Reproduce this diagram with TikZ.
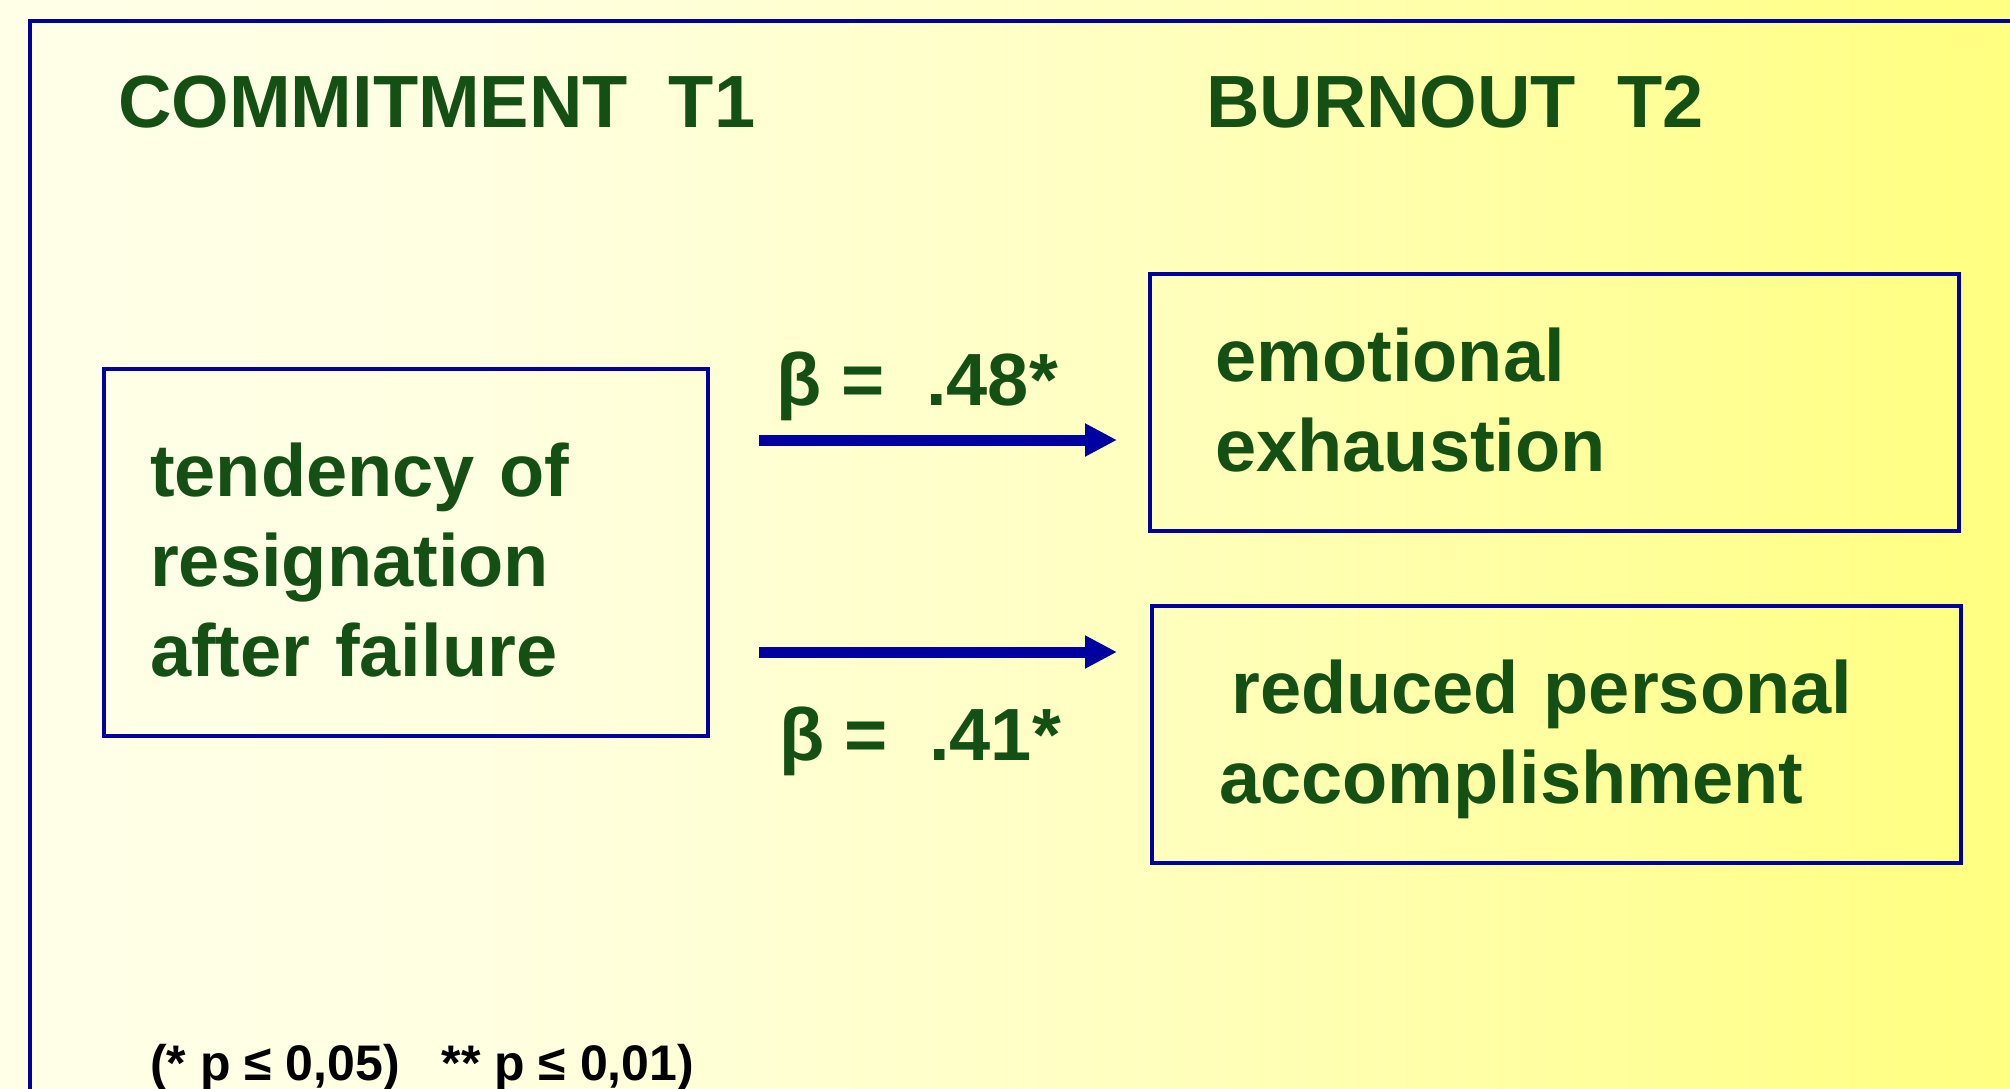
\documentclass[tikz,border=0pt]{standalone}
\usepackage{fontspec}
\setmainfont{Liberation Sans}
\usetikzlibrary{arrows.meta}
\definecolor{dgreen}{RGB}{20,80,20}
\definecolor{dblue}{RGB}{0,0,160}
\definecolor{bgA}{RGB}{255,255,248}
\definecolor{bgB}{RGB}{255,255,225}
\definecolor{bgC}{RGB}{255,255,195}
\definecolor{bgD}{RGB}{255,255,135}
\definecolor{bgE}{RGB}{255,255,110}
\definecolor{bgF}{RGB}{255,250,85}
\pgfdeclarehorizontalshading{bgshade}{100bp}{color(0bp)=(bgA); color(37bp)=(bgB); color(52bp)=(bgC); color(72bp)=(bgD); color(85bp)=(bgE); color(100bp)=(bgF)}
\tikzset{
  bigtext/.style={font=\fontsize{74}{90}\selectfont\bfseries, text=dgreen, anchor=base west, inner sep=0pt},
  blocktext/.style={bigtext, text width=700pt, align=left},
  notetext/.style={font=\fontsize{50}{54}\selectfont\bfseries, text=black, anchor=base west, inner sep=0pt},
  boxnode/.style={draw=dblue, line width=3.5pt, inner sep=0pt},
  arr/.style={draw=dblue, line width=11pt, -{Triangle[length=32pt,width=31pt]}},
}
\begin{document}
\begin{tikzpicture}[x=1pt,y=-1pt]
\useasboundingbox (0,0) rectangle (2010,1089);
\shade[shading=bgshade] (0,0) rectangle (2010,1089);
% outer frame
\draw[dblue, line width=4pt] (30,1100) -- (30,21) -- (2030,21);
% titles
\node[bigtext] (t1) at (118,128) {COMMITMENT\ \ T1};
\node[bigtext] (t2) at (1206,128) {BURNOUT\ \ T2};
% boxes
\node[boxnode, minimum width=604pt, minimum height=367pt] (left) at (406,552.5) {};
\node[boxnode, minimum width=809pt, minimum height=257pt] (ee) at (1554.5,402.5) {};
\node[boxnode, minimum width=809pt, minimum height=257pt] (rpa) at (1556.5,734.5) {};
% box texts
\node[blocktext] (lefttext) at (150,496) {tendency of\\resignation\\after failure};
\node[blocktext] (eetext) at (1215,381) {emotional\\exhaustion};
\node[blocktext] (rpatext) at (1219,713) {\hspace*{12pt}reduced personal\\accomplishment};
% arrows
\coordinate (a1s) at (759,440);
\coordinate (a1e) at (1117,440);
\coordinate (a2s) at (759,652);
\coordinate (a2e) at (1117,652);
\draw[arr] (a1s) -- (a1e);
\draw[arr] (a2s) -- (a2e);
% labels
\node[bigtext] (b1) at (776,405) {β =\ \ .48*};
\node[bigtext] (b2) at (779,760) {β =\ \ .41*};
% footnote
\node[notetext] (note) at (150,1080) {(* p ≤ 0,05)\ \ \ ** p ≤ 0,01)};
\end{tikzpicture}
\end{document}
